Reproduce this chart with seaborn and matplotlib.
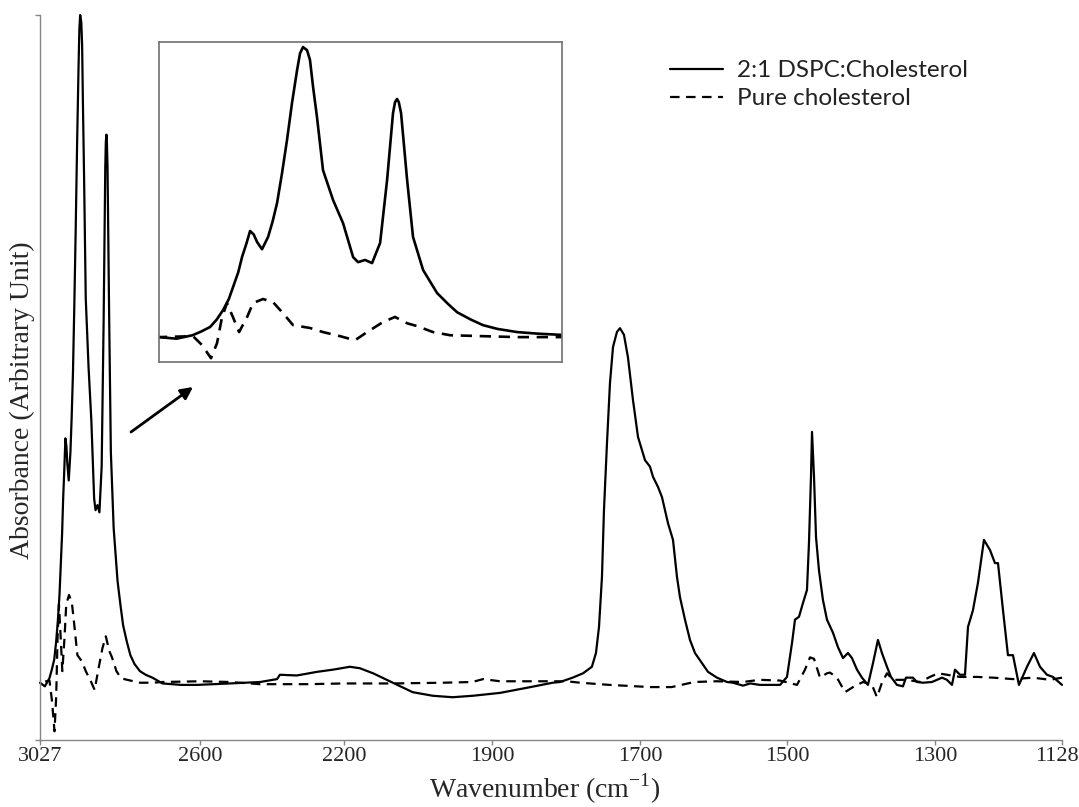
import numpy as np
import pandas as pd
import matplotlib
matplotlib.use("Agg")
import matplotlib.pyplot as plt
import matplotlib.transforms as mtransforms
import seaborn as sns

# ---------------- data ----------------
label_dspc = "2:1 DSPC:Cholesterol"
label_chol = "Pure cholesterol"

w_dspc = [3027, 3014, 3002, 2996, 2989, 2984, 2979.3, 2975, 2971.9, 2968, 2965.2, 2962,
          2959.2, 2956.5, 2954, 2950.3, 2945.8, 2942.5, 2939.1, 2935.4, 2931.7, 2928,
          2924.2, 2922, 2919.8, 2916.8, 2914.6, 2912.3, 2909.4, 2904.9, 2897.4, 2890,
          2882.5, 2878.8, 2873.6, 2868.4, 2862.4, 2857.2, 2852.8, 2851.3, 2849.8, 2848.5,
          2846.8, 2842.3, 2837.9, 2830.4, 2820, 2812, 2805.1, 2795, 2785.8, 2775,
          2760.4, 2745, 2727, 2700, 2650, 2608, 2517, 2433, 2386,
          2378, 2331, 2275, 2231, 2188, 2168, 2141, 2101, 2061, 2020,
          1980, 1939, 1889, 1853, 1818, 1808, 1791, 1777, 1765, 1759.5,
          1755.4, 1751.4, 1748.7, 1744.6, 1740.6, 1736.5, 1731.1, 1727.1, 1721.7, 1716.3,
          1709.5, 1702.7, 1697.3, 1693.2, 1686.4, 1682.3, 1675.5, 1670.1, 1666, 1661.9,
          1655.1, 1649.7, 1645.6, 1638.8, 1632, 1625.2, 1615.6, 1607.5, 1595.3, 1581.6,
          1573.4, 1560, 1550, 1537, 1523, 1509.5, 1500, 1493.2, 1489.2, 1483.8,
          1478.4, 1473, 1470.3, 1467.6, 1466.2, 1463.5, 1460.8, 1456.8, 1451.4, 1446,
          1437.9, 1431.1, 1424.3, 1417.6, 1412.2, 1405.4, 1398.7, 1390.6, 1383.8, 1377.1,
          1371.7, 1364.9, 1359.5, 1351.4, 1343.3, 1339.2, 1329.8, 1324.4, 1316.3, 1304.1,
          1290.5, 1283.8, 1277, 1272.9, 1266.2, 1259.4, 1255.3, 1248.6, 1241.8, 1233.7,
          1225.5, 1218.8, 1214.7, 1207.9, 1201.2, 1194.4, 1186.3, 1175.4, 1166, 1157.8,
          1148.4, 1140.2, 1128]
a_dspc = [7.9, 7.4, 8.5, 9.6, 11.1, 13.5, 16.5, 20.0, 23.8, 28.5, 33.3, 37.5,
          41.6, 40.5, 38.1, 35.8, 39.7, 44.5, 50.5, 60.0, 70.5, 82.2,
          92.7, 98.0, 100, 99.0, 95.9, 87.3, 77.8, 60.9, 51.4, 44.1,
          33.3, 31.7, 32.4, 31.4, 37.8, 57.8, 79.0, 82.5, 83.5, 82.5,
          79.0, 57.8, 39.7, 29.2, 21.9, 18.5, 15.8, 13.5, 11.7, 10.5,
          9.5, 9.0, 8.6, 7.8, 7.6, 7.6, 7.8, 8.0, 8.4,
          9.0, 8.9, 9.4, 9.7, 10.1, 9.9, 9.2, 7.9, 6.6, 6.1,
          5.9, 6.1, 6.5, 7.2, 7.9, 8.0, 8.6, 9.2, 10.1, 12.0,
          15.6, 22.5, 31.7, 41.0, 49.2, 54.2, 56.3, 56.8, 55.9, 52.8,
          46.9, 41.8, 40.0, 38.6, 37.7, 36.3, 34.9, 33.5, 31.7, 29.9,
          27.6, 22.5, 19.7, 16.6, 13.8, 12.0, 10.6, 9.4, 8.6, 8.0,
          7.9, 7.5, 7.8, 7.6, 7.6, 7.6, 8.7, 13.4, 16.6, 17.0,
          18.9, 20.7, 27.2, 36.3, 42.5, 36.3, 28.0, 23.4, 19.3, 16.6,
          14.8, 12.8, 11.3, 12.0, 11.3, 9.7, 8.6, 7.6, 10.6, 13.8,
          12.0, 10.1, 8.7, 7.6, 7.4, 8.6, 8.6, 8.0, 7.9, 8.0,
          8.6, 8.3, 7.6, 9.7, 9.0, 9.0, 15.6, 17.9, 21.7, 27.6,
          26.2, 24.4, 24.4, 17.9, 11.7, 11.7, 7.6, 10.1, 12.0, 10.1,
          9.0, 8.7, 7.6]

w_chol = [3027, 3001.7, 2995, 2988.3, 2983.8, 2980.1, 2976.4, 2971.9, 2967.4, 2961.5,
          2957, 2949.6, 2942.1, 2934.7, 2927.2, 2914.6, 2904.9, 2892.2, 2881.1, 2872.1,
          2860.2, 2851.3, 2842.3, 2834.9, 2823, 2810.3, 2785.8, 2760.4, 2727, 2700,
          2600, 2517, 2433, 2300, 2200, 2100, 2000, 1940, 1918, 1889,
          1799, 1781, 1741, 1686, 1657, 1626, 1596, 1560, 1537, 1509.5,
          1486.5, 1475.7, 1468.9, 1463.5, 1455.4, 1446, 1441.9, 1432.5, 1421.6, 1410.8,
          1397.3, 1385.2, 1378.4, 1371.7, 1364.9, 1356.8, 1337.9, 1320.3, 1306.8, 1295.9,
          1283.8, 1266.2, 1243.1, 1221.5, 1194.4, 1167.3, 1144.3, 1128]
a_chol = [7.9, 8.2, 5.4, 1.2, 6.0, 14.2, 18.7, 14.2, 9.5, 14.2,
          18.7, 20.0, 19.0, 15.5, 11.7, 10.8, 9.5, 8.2, 6.9, 9.5,
          12.7, 14.3, 12.3, 11.4, 9.5, 8.5, 8.2, 7.9, 7.9, 8.0,
          8.1, 8.0, 7.7, 7.7, 7.8, 7.8, 7.9, 8.0, 8.4, 8.1,
          8.1, 7.9, 7.6, 7.3, 7.3, 8.0, 8.1, 8.0, 8.3, 8.2,
          7.6, 9.7, 11.4, 11.2, 8.6, 9.2, 9.3, 8.6, 6.6, 7.3,
          8.0, 7.6, 5.9, 7.9, 9.2, 8.3, 8.3, 8.0, 8.7, 9.2,
          9.0, 8.7, 8.7, 8.6, 8.4, 8.6, 8.3, 8.6]

tick_values = [3027, 2600, 2200, 1900, 1700, 1500, 1300, 1128]
tick_labels = ["3027", "2600", "2200", "1900", "1700", "1500", "1300", "1128"]

# ---------------- styling ----------------
sns.set_theme(style="white")
plt.rcParams["font.family"] = ["Liberation Serif", "DejaVu Serif"]
plt.rcParams["mathtext.fontset"] = "custom"
plt.rcParams["mathtext.rm"] = "Liberation Serif"

df = pd.concat([
    pd.DataFrame({"w": w_dspc, "a": a_dspc, "series": label_dspc}),
    pd.DataFrame({"w": w_chol, "a": a_chol, "series": label_chol}),
], ignore_index=True)

dash_map = {label_dspc: "", label_chol: (4.3, 2.9)}

W, H = 1079, 807
fig = plt.figure(figsize=(W / 100, H / 100), dpi=100)
ax = fig.add_axes([40 / W, (H - 740) / H, 1022 / W, 725 / H])

sns.lineplot(data=df, x="w", y="a", style="series", dashes=dash_map,
             color="black", linewidth=1.6, estimator=None, ax=ax)
for ln in ax.lines:
    ln.set_clip_on(False)

# Non-uniform category-like wavenumber axis (piecewise linear between labelled ticks)
knot_w = [0, 1128, 1300, 1500, 1700, 1900, 2200, 2600, 3027, 10000]
knot_p = [1895, 1062, 935, 787, 640, 492, 344, 200, 40, -2572]


def fwd(x):
    return -np.interp(x, knot_w, knot_p)


def inv(p):
    return np.interp(-np.asarray(p), knot_p[::-1], knot_w[::-1])


ax.set_xscale("function", functions=(fwd, inv))
ax.set_xlim(3027, 1128)
ax.set_ylim(0, 100)
ax.set_xticks(tick_values)
ax.set_xticklabels(tick_labels)
ax.set_yticks([0, 100])
ax.set_yticklabels([])
ax.tick_params(axis="both", direction="out", length=3.6, width=1.0,
               color="#868686", labelsize=16, pad=1.5, bottom=True, left=True)
# nudge the last label inward so it stays inside the canvas
last = ax.get_xticklabels()[-1]
last.set_transform(last.get_transform() +
                   mtransforms.ScaledTranslation(-5 / 100, 0, fig.dpi_scale_trans))
ax.set_xlabel("")
ax.set_ylabel("")
for s in ["top", "right"]:
    ax.spines[s].set_visible(False)
for s in ["left", "bottom"]:
    ax.spines[s].set_color("#868686")
    ax.spines[s].set_linewidth(1.0)

fig.text(545 / W, 1 - 789 / H, r"Wavenumber (cm$^{\mathrm{-1}}$)", fontsize=20,
         ha="center", va="center")
fig.text(22 / W, 1 - 400 / H, "Absorbance (Arbitrary Unit)", fontsize=20,
         rotation=90, ha="center", va="center")

handles, labels = ax.get_legend_handles_labels()
leg = ax.legend(handles, labels, loc="upper left",
                bbox_to_anchor=(670 / W, 1 - 60 / H), bbox_transform=fig.transFigure,
                frameon=False, prop={"family": "Lato", "size": 17.5},
                handlelength=2.2, handletextpad=0.55, labelspacing=0.3,
                borderpad=0, borderaxespad=0)
for h in leg.get_lines():
    h.set_linewidth(1.6)
    h.set_color("black")
for t in leg.get_texts():
    t.set_color("#222222")

# ---------------- inset ----------------
axin = fig.add_axes([159 / W, (H - 362) / H, 403 / W, 320 / H])
sns.lineplot(data=df, x="w", y="a", style="series", dashes=dash_map,
             color="black", linewidth=1.9, estimator=None, legend=False, ax=axin)
axin.set_xlim(3027, 2727)
axin.set_ylim(0, 101.6)
axin.set_xticks([])
axin.set_yticks([])
axin.set_xlabel("")
axin.set_ylabel("")
for s in axin.spines.values():
    s.set_visible(True)
    s.set_color("#707070")
    s.set_linewidth(1.2)

ax.annotate("", xy=(193, H - 387), xycoords="figure pixels",
            xytext=(131, H - 432), textcoords="figure pixels",
            arrowprops=dict(arrowstyle="-|>", color="black", lw=2,
                            mutation_scale=18, shrinkA=0, shrinkB=0),
            annotation_clip=False)

fig.savefig("out.png", dpi=100)
